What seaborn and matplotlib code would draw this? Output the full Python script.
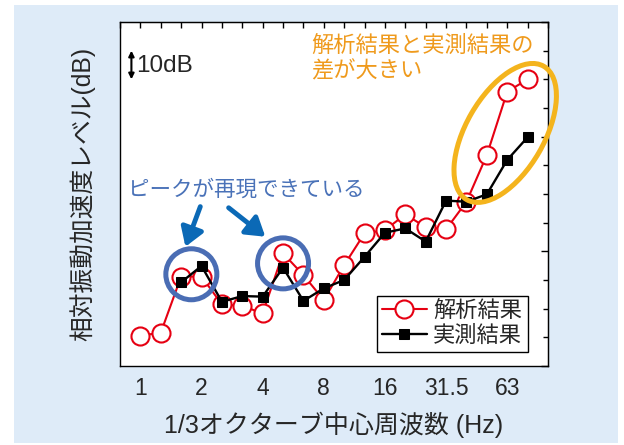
import matplotlib
matplotlib.use("Agg")
import matplotlib.pyplot as plt
import matplotlib.transforms as mtransforms
from matplotlib.patches import Ellipse, Rectangle
from matplotlib.ticker import MultipleLocator, FixedLocator, NullFormatter
import pandas as pd
import seaborn as sns

# 1/3-octave bands indexed from 1 Hz (index 0); 0.8 Hz = -1, 100 Hz = 20
calc_band = list(range(0, 20))
calc_level = [10.6, 11.6, 31.2, 31.2, 21.5, 20.9, 18.4, 39.3, 31.7, 23.0,
              35.2, 46.3, 47.4, 52.9, 48.4, 47.7, 57.3, 73.6, 95.7, 100.0]
meas_band = list(range(2, 20))
meas_level = [29.2, 34.9, 22.4, 24.4, 24.2, 34.3, 22.7, 27.1, 30.0,
              38.1, 46.5, 48.0, 43.4, 57.7, 57.3, 59.9, 71.9, 79.8]
label_band = [0, 3, 6, 9, 12, 15, 18]
label_text = ["1", "2", "4", "8", "16", "31.5", "63"]

calc_df = pd.DataFrame({"band": calc_band, "level": calc_level})
meas_df = pd.DataFrame({"band": meas_band, "level": meas_level})

sns.set_style("white")
plt.rcParams["font.family"] = ["Liberation Sans", "Noto Sans CJK JP", "DejaVu Sans"]

RED = "#e60012"
PANEL = "#deebf8"
ORANGE = "#ef9a1c"
ELLIPSE = "#f4b41d"
BLUE_TXT = "#4a72b8"
BLUE_RING = "#4a6db4"
BLUE_ARROW = "#0b69b6"

fig = plt.figure(figsize=(6.24, 4.45), dpi=100, facecolor="white")
fig.patches.append(Rectangle((14 / 624, 1 - 443 / 445), 604 / 624, 438 / 445,
                             transform=fig.transFigure, facecolor=PANEL,
                             edgecolor="none", zorder=-10))
ax = fig.add_axes([120 / 624, 1 - 366 / 445, 428 / 624, 344 / 445])
ax.set_facecolor("white")

sns.lineplot(data=calc_df, x="band", y="level", ax=ax, color=RED, lw=1.5,
             marker="o", markersize=13, markerfacecolor="white",
             markeredgecolor=RED, markeredgewidth=1.5, label="解析結果",
             zorder=3)
sns.lineplot(data=meas_df, x="band", y="level", ax=ax, color="black", lw=1.7,
             marker="s", markersize=7, markerfacecolor="black",
             markeredgecolor="black", label="実測結果", zorder=4)

ax.set_xlim(-1, 20)
ax.set_ylim(0, 120)

# axes frame
for s in ax.spines.values():
    s.set_color("black")
    s.set_linewidth(1.0)

ax.xaxis.set_major_locator(FixedLocator(label_band))
ax.set_xticklabels(label_text)
ax.xaxis.set_minor_locator(FixedLocator(
    [b for b in range(-1, 21) if b not in label_band]))
ax.yaxis.set_major_locator(MultipleLocator(40))
ax.yaxis.set_minor_locator(MultipleLocator(10))
ax.yaxis.set_major_formatter(NullFormatter())
ax.tick_params(axis="x", which="major", direction="out", length=5, width=1,
               labelsize=16.5, pad=3, color="black")
ax.tick_params(axis="x", which="minor", direction="out", length=3, width=1,
               color="black")
ax.tick_params(axis="y", which="major", direction="out", length=6, width=1,
               color="black")
ax.tick_params(axis="y", which="minor", direction="out", length=3.5, width=1,
               color="black")

top = ax.secondary_xaxis("top")
top.xaxis.set_major_locator(FixedLocator(list(range(-1, 21))))
top.xaxis.set_major_formatter(NullFormatter())
top.tick_params(direction="in", length=4.5, width=1, color="black")
right = ax.secondary_yaxis("right")
right.yaxis.set_major_locator(MultipleLocator(40))
right.yaxis.set_minor_locator(MultipleLocator(10))
right.yaxis.set_major_formatter(NullFormatter())
right.tick_params(which="major", direction="in", length=5, width=1, color="black")
right.tick_params(which="minor", direction="in", length=3.5, width=1, color="black")

ax.set_xlabel("1/3オクターブ中心周波数 (Hz)", fontsize=18, labelpad=8)
ax.set_ylabel("相対振動加速度レベル(dB)", fontsize=17.8, labelpad=8)

leg = ax.legend(loc="lower right", bbox_to_anchor=(0.953, 0.04), fontsize=16,
                frameon=True, fancybox=False, framealpha=1, edgecolor="black",
                handlelength=2.0, handletextpad=0.3, labelspacing=0.15,
                borderpad=0.25, borderaxespad=0)
leg.get_frame().set_linewidth(1.0)

# 10 dB scale arrow
ax.annotate("", xy=(-0.44, 110), xytext=(-0.44, 100),
            arrowprops=dict(arrowstyle="<|-|>", color="black", lw=1.5,
                            mutation_scale=8, shrinkA=0, shrinkB=0))
ax.text(-0.2, 104.6, "10dB", fontsize=17.5, ha="left", va="center")

# orange note and ellipse around the high bands
ax.text(8.4, 111.4, "解析結果と実測結果の", color=ORANGE, fontsize=16,
        ha="left", va="center")
ax.text(8.4, 102.6, "差が大きい", color=ORANGE, fontsize=16,
        ha="left", va="center")
ell_tr = fig.dpi_scale_trans + mtransforms.ScaledTranslation(17.9, 81.3, ax.transData)
ax.add_patch(Ellipse((0, 0), 1.54, 0.78, angle=60, transform=ell_tr,
                     facecolor="none", edgecolor=ELLIPSE, lw=3.6,
                     clip_on=False, zorder=6))

# blue note, rings and arrows on the reproduced peaks
ax.text(-0.6, 61.4, "ピークが再現できている", color=BLUE_TXT, fontsize=15.5,
        ha="left", va="center")
for cx, cy in [(2.5, 32.0), (7.0, 35.8)]:
    tr = fig.dpi_scale_trans + mtransforms.ScaledTranslation(cx, cy, ax.transData)
    ax.add_patch(Ellipse((0, 0), 0.51, 0.51, transform=tr, facecolor="none",
                         edgecolor=BLUE_RING, lw=3.6, clip_on=False, zorder=6))
for (x0, y0), (x1, y1) in [((2.94, 55.6), (2.21, 41.6)),
                           ((4.33, 55.2), (6.13, 45.1))]:
    ax.annotate("", xy=(x1, y1), xytext=(x0, y0),
                arrowprops=dict(arrowstyle="-|>,head_length=0.55,head_width=0.35",
                                color=BLUE_ARROW, lw=3.5, mutation_scale=20,
                                shrinkA=0, shrinkB=0), zorder=7)

fig.savefig("out.png", dpi=100, facecolor="white")
